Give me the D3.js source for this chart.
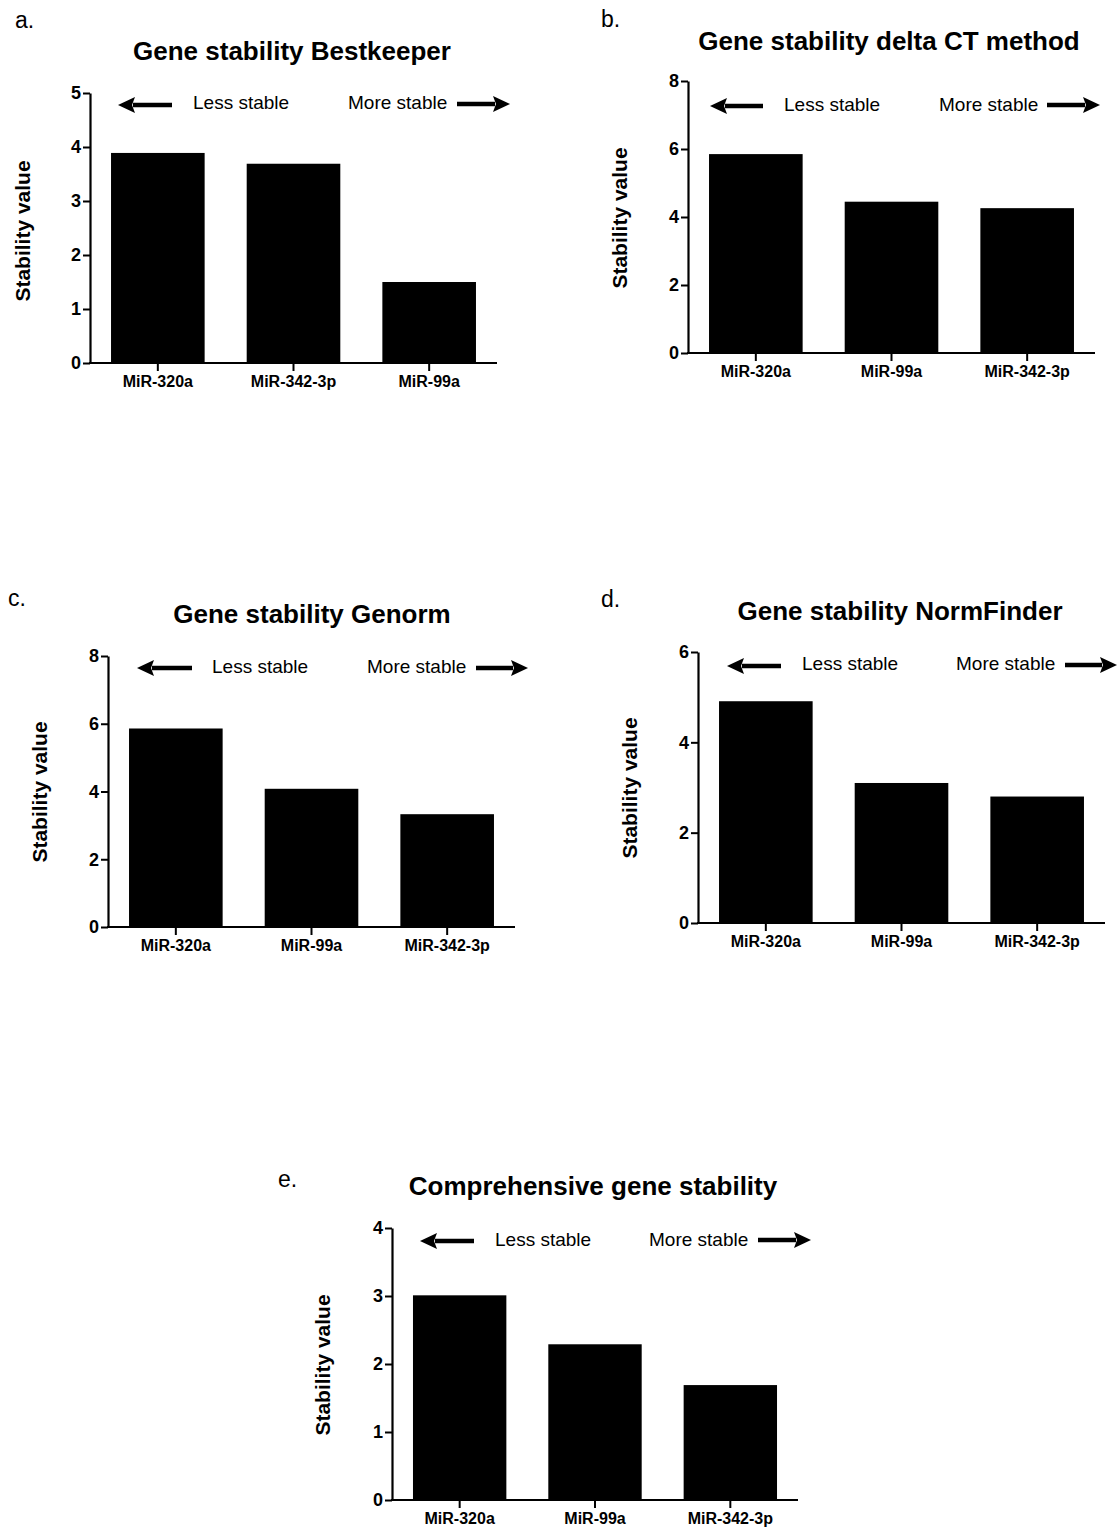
<!DOCTYPE html>
<html>
<head>
<meta charset="utf-8">
<script src="https://d3js.org/d3.v7.min.js"></script>
<style>
  html, body { margin: 0; padding: 0; background: #fff; }
  svg { display: block; }
  text { font-family: "Liberation Sans", Arial, Helvetica, sans-serif; fill: #000; }
</style>
</head>
<body>
<svg id="chart" width="1118" height="1530"></svg>
<script>
// ---- Data ----
const panelLetters = ["a.", "b.", "c.", "d.", "e."];
const panelTitles = [
  "Gene stability Bestkeeper",
  "Gene stability delta CT method",
  "Gene stability Genorm",
  "Gene stability NormFinder",
  "Comprehensive gene stability"
];
const categoriesA = ["MiR-320a", "MiR-342-3p", "MiR-99a"];
const categoriesB = ["MiR-320a", "MiR-99a", "MiR-342-3p"];
const categoriesC = ["MiR-320a", "MiR-99a", "MiR-342-3p"];
const categoriesD = ["MiR-320a", "MiR-99a", "MiR-342-3p"];
const categoriesE = ["MiR-320a", "MiR-99a", "MiR-342-3p"];
const valuesA = [3.89, 3.69, 1.50];
const valuesB = [5.85, 4.45, 4.26];
const valuesC = [5.86, 4.08, 3.33];
const valuesD = [4.91, 3.10, 2.80];
const valuesE = [3.01, 2.29, 1.69];
const ticksA = [0, 1, 2, 3, 4, 5];
const ticksB = [0, 2, 4, 6, 8];
const ticksC = [0, 2, 4, 6, 8];
const ticksD = [0, 2, 4, 6];
const ticksE = [0, 1, 2, 3, 4];
const yAxisLabel = "Stability value";
const lessLabel = "Less stable";
const moreLabel = "More stable";

// ---- Layout (positions only) ----
const layouts = [
  { x0: 90,  x1: 497,  yTop: 93,   yBot: 363,  title: [292, 60],   letter: [15, 28],   ylab: [22, 231],
    less: [193, 109], more: [348, 109], arrowL: [118, 172, 105], arrowR: [457, 510, 104] },
  { x0: 688, x1: 1095, yTop: 81,   yBot: 353,  title: [889, 50],   letter: [601, 27],  ylab: [619, 218],
    less: [784, 111], more: [939, 111], arrowL: [710, 763, 106], arrowR: [1047, 1100, 105] },
  { x0: 108, x1: 515,  yTop: 656,  yBot: 927,  title: [312, 623],  letter: [8, 606],   ylab: [39, 792],
    less: [212, 673], more: [367, 673], arrowL: [137, 192, 668], arrowR: [476, 528, 668] },
  { x0: 698, x1: 1105, yTop: 652,  yBot: 923,  title: [900, 620],  letter: [601, 607], ylab: [629, 788],
    less: [802, 670], more: [956, 670], arrowL: [727, 781, 666], arrowR: [1065, 1117, 665] },
  { x0: 392, x1: 798,  yTop: 1228, yBot: 1500, title: [593, 1195], letter: [278, 1187], ylab: [322, 1365],
    less: [495, 1246], more: [649, 1246], arrowL: [420, 474, 1241], arrowR: [758, 811, 1240] }
];

const panelCats = [categoriesA, categoriesB, categoriesC, categoriesD, categoriesE];
const panelVals = [valuesA, valuesB, valuesC, valuesD, valuesE];
const panelTicks = [ticksA, ticksB, ticksC, ticksD, ticksE];

const svg = d3.select("#chart");
const FONT = '"Liberation Sans", Arial, Helvetica, sans-serif';

function arrow(g, xTail, xTip, y) {
  const dir = xTip > xTail ? 1 : -1;
  const headLen = 17, headHalf = 8, shaft = 4.5;
  const xBase = xTip - dir * headLen;
  g.append("line")
    .attr("x1", xTail).attr("x2", xBase + dir * 2)
    .attr("y1", y).attr("y2", y)
    .attr("stroke", "#000").attr("stroke-width", shaft);
  g.append("path")
    .attr("d", `M${xTip},${y} L${xBase},${y - headHalf} L${xBase + dir * 3},${y} L${xBase},${y + headHalf} Z`)
    .attr("fill", "#000");
}

layouts.forEach((L, i) => {
  const cats = panelCats[i], vals = panelVals[i], ticks = panelTicks[i];
  const g = svg.append("g");

  const x = d3.scaleBand().domain(cats).range([L.x0, L.x1])
    .paddingInner(0.31).paddingOuter(0.155);
  const y = d3.scaleLinear().domain([d3.min(ticks), d3.max(ticks)]).range([L.yBot, L.yTop]);

  // bars
  g.selectAll("rect.bar").data(cats).enter().append("rect")
    .attr("class", "bar")
    .attr("x", d => x(d))
    .attr("width", x.bandwidth())
    .attr("y", (d, j) => y(vals[j]))
    .attr("height", (d, j) => y(0) - y(vals[j]))
    .attr("fill", "#000");

  // y axis
  const ya = g.append("g").attr("transform", `translate(${L.x0},0)`)
    .call(d3.axisLeft(y).tickValues(ticks).tickFormat(d3.format("d"))
      .tickSize(7).tickSizeOuter(0).tickPadding(2));
  ya.attr("font-family", FONT).attr("font-size", 18).attr("font-weight", "bold");
  ya.select(".domain").attr("stroke-width", 2.2);
  ya.selectAll(".tick line").attr("stroke-width", 2);
  ya.selectAll(".tick text")
    .style("font-family", FONT)
    .style("font-size", "18px").style("font-weight", "bold");

  // x axis
  const xa = g.append("g").attr("transform", `translate(0,${L.yBot})`)
    .call(d3.axisBottom(x).tickSize(8).tickSizeOuter(0).tickPadding(5));
  xa.attr("font-family", FONT).attr("font-size", 16).attr("font-weight", "bold");
  xa.select(".domain").attr("stroke-width", 2.2)
    .attr("d", `M${L.x0 - 1},0H${L.x1}`);
  xa.selectAll(".tick line").attr("stroke-width", 2);
  xa.selectAll(".tick text")
    .style("font-family", FONT)
    .style("font-size", "16px").style("font-weight", "bold");

  // title
  g.append("text").attr("x", L.title[0]).attr("y", L.title[1])
    .attr("text-anchor", "middle")
    .style("font-size", "26px").style("font-weight", "bold")
    .text(panelTitles[i]);

  // panel letter
  g.append("text").attr("x", L.letter[0]).attr("y", L.letter[1])
    .style("font-size", "23px")
    .text(panelLetters[i]);

  // y axis label
  g.append("text")
    .attr("transform", `translate(${L.ylab[0]},${L.ylab[1]}) rotate(-90)`)
    .attr("text-anchor", "middle").attr("dominant-baseline", "central")
    .style("font-size", "21px").style("font-weight", "bold")
    .text(yAxisLabel);

  // stability annotations
  g.append("text").attr("x", L.less[0]).attr("y", L.less[1])
    .style("font-size", "19px").text(lessLabel);
  g.append("text").attr("x", L.more[0]).attr("y", L.more[1])
    .style("font-size", "19px").text(moreLabel);
  arrow(g, L.arrowL[1], L.arrowL[0], L.arrowL[2]);
  arrow(g, L.arrowR[0], L.arrowR[1], L.arrowR[2]);
});
</script>
</body>
</html>
